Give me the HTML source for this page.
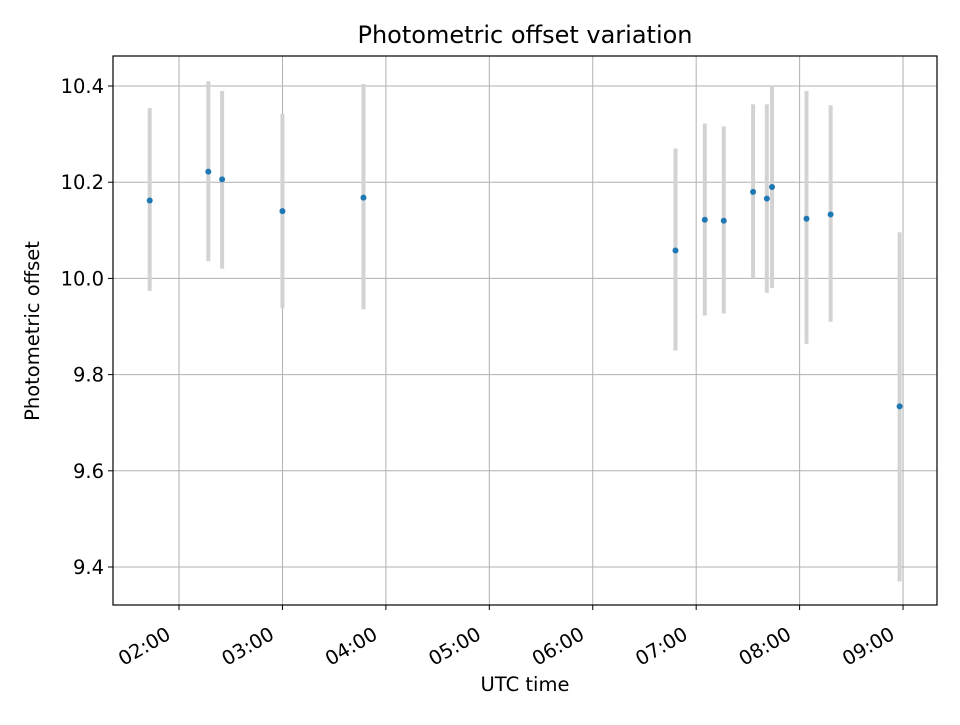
<!DOCTYPE html>
<html><head><meta charset="utf-8"><style>
body{margin:0;background:#fff;}
svg text{font-family:"DejaVu Sans","Liberation Sans",sans-serif;fill:#000;}
</style></head><body>
<svg id="chart" width="960" height="720" xmlns="http://www.w3.org/2000/svg">
<rect width="960" height="720" fill="#fff"/>
<g id="grid"></g>
<g id="bars"></g>
<g id="pts"></g>
<rect x="113" y="56" width="824" height="549" fill="none" stroke="#000" stroke-width="1.2"/>
<g id="xt"></g><g id="yt"></g>
<text x="525" y="43" style="font-size:24px" text-anchor="middle">Photometric offset variation</text>
<text x="525" y="691" style="font-size:19.5px" text-anchor="middle">UTC time</text>
<text transform="translate(39,331) rotate(-90)" style="font-size:19.5px" text-anchor="middle">Photometric offset</text>
</svg>
<script>
const times=["01:43","02:17","02:25","03:00","03:47","06:48","07:05","07:16","07:33","07:41","07:44","08:04","08:18","08:58"];
const offsets=[10.162,10.222,10.206,10.140,10.168,10.058,10.122,10.120,10.180,10.166,10.190,10.124,10.133,9.734];
const errLow=[0.188,0.186,0.186,0.202,0.232,0.208,0.199,0.193,0.180,0.196,0.210,0.260,0.223,0.364];
const errHigh=[0.192,0.188,0.184,0.202,0.236,0.212,0.200,0.196,0.182,0.196,0.210,0.266,0.227,0.362];
const xTicks=["02:00","03:00","04:00","05:00","06:00","07:00","08:00","09:00"];
const yTicks=[9.4,9.6,9.8,10.0,10.2,10.4];
const X0=113,X1=937,Y0=56,Y1=605,xmin=81.7,xmax=559.7,ymin=9.321,ymax=10.4624;
const NS="http://www.w3.org/2000/svg";
function mins(t){const p=t.split(":");return +p[0]*60+ +p[1];}
function sx(m){return X0+(m-xmin)/(xmax-xmin)*(X1-X0);}
function sy(v){return Y1-(v-ymin)/(ymax-ymin)*(Y1-Y0);}
function mk(tag,at,parent){const e=document.createElementNS(NS,tag);for(const k in at)e.setAttribute(k,at[k]);document.getElementById(parent).appendChild(e);return e;}
xTicks.forEach(t=>{const x=sx(mins(t));
 const g=mk("line",{x1:x,x2:x,y1:Y0,y2:Y1,stroke:"#b0b0b0","stroke-width":1},"grid");
 
 
 const tk=mk("line",{x1:x,x2:x,y1:Y1,y2:Y1+5,stroke:"#000"},"xt");
 
 
 const tx=mk("text",{transform:`translate(${x-7},${Y1+33}) rotate(-30)`,style:"font-size:19.5px","text-anchor":"end"},"xt");
 tx.textContent=t;
 
 
});
yTicks.forEach(v=>{const y=sy(v);
 const g=mk("line",{x1:X0,x2:X1,y1:y,y2:y,stroke:"#b0b0b0","stroke-width":1},"grid");
 
 
 const tk=mk("line",{x1:X0-5,x2:X0,y1:y,y2:y,stroke:"#000"},"yt");
 
 
 const tx=mk("text",{x:X0-9,y:y+7,style:"font-size:19.5px","text-anchor":"end"},"yt");
 tx.textContent=v.toFixed(1);
 
 
});
times.forEach((t,i)=>{const x=sx(mins(t)),v=offsets[i];
 const b=mk("line",{x1:x,x2:x,y1:sy(v+errHigh[i]),y2:sy(v-errLow[i]),stroke:"#d3d3d3","stroke-width":4},"bars");
 
 
 const c=mk("circle",{cx:x,cy:sy(v),r:3,fill:"#1f77b4"},"pts");
 
 
});
</script>
</body></html>
